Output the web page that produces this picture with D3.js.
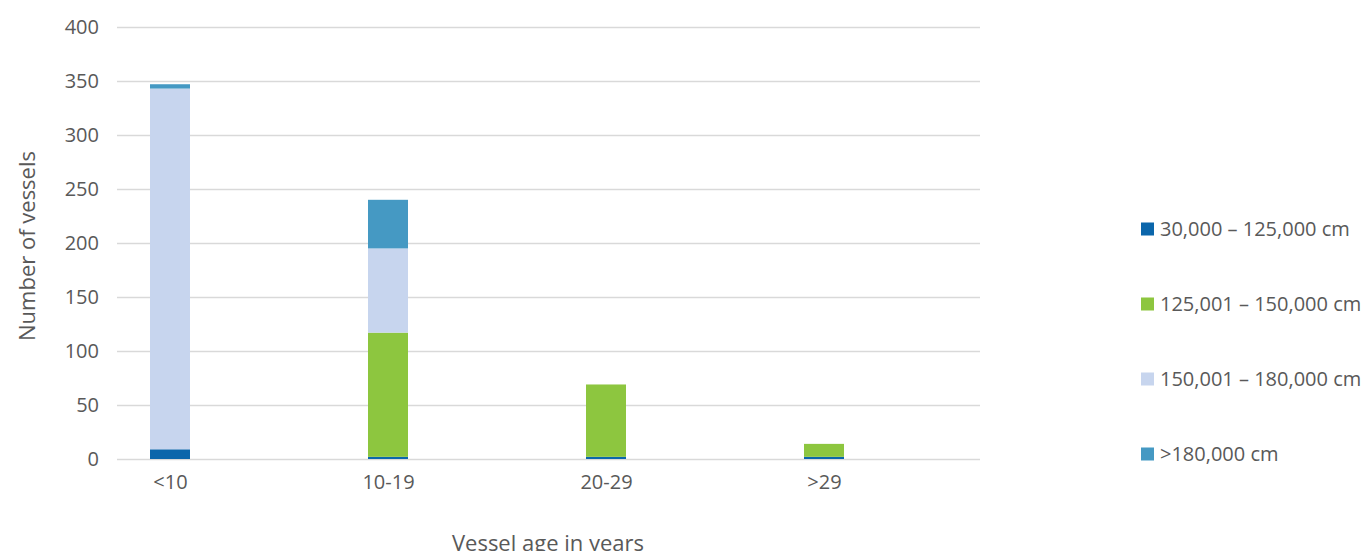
<!DOCTYPE html>
<html>
<head>
<meta charset="utf-8">
<script src="https://cdn.jsdelivr.net/npm/d3@7"></script>
<style>
  body { margin: 0; background: #fff; }
  #chart { width: 1361px; height: 551px; }
  text { font-family: "Open Sans", sans-serif; fill: #595959; }
</style>
</head>
<body>
<div id="chart"></div>
<script>
// Datos
const categorias = ['<10', '10-19', '20-29', '>29'];
const series = ['30,000 – 125,000 cm', '125,001 – 150,000 cm', '150,001 – 180,000 cm', '>180,000 cm'];
const serie1 = [9, 2, 2, 2];
const serie2 = [0, 115, 67, 12];
const serie3 = [334, 78, 0, 0];
const serie4 = [4, 45, 0, 0];
const yTicks = [0, 50, 100, 150, 200, 250, 300, 350, 400];

const COLORS = ['#0b66ab', '#8dc63f', '#c7d5ee', '#4599c3'];

let data = categorias.map(function(c, i) {
    return { cat: c, s0: serie1[i], s1: serie2[i], s2: serie3[i], s3: serie4[i] };
});
let keys = ['s0', 's1', 's2', 's3'];

let svg = d3.select('#chart')
    .append('svg')
    .attr('width', 1361)
    .attr('height', 551);

let plot = { left: 117, right: 980, top: 27, bottom: 459 };

let y = d3.scaleLinear()
    .domain([0, 400])
    .range([plot.bottom, plot.top]);

let x = d3.scalePoint()
    .domain(categorias)
    .range([170, 824]);

let barWidth = 40;

// Y axis con líneas de rejilla
let yAxis = function(g) {
    g.call(d3.axisLeft(y).tickValues(yTicks).tickSize(0).tickPadding(18));
    g.select('.domain').remove();
    g.selectAll('.tick text').style('font-size', '20px').style('font-family', '"Open Sans", sans-serif').attr('fill', '#595959');
    g.selectAll('.tick line')
        .attr('x1', 0)
        .attr('x2', plot.right - plot.left)
        .attr('stroke', '#d9d9d9')
        .attr('stroke-width', 1.5);
};

svg.append('g')
    .attr('transform', 'translate(' + plot.left + ',0)')
    .call(yAxis);

// X axis
let xAxis = function(g) {
    g.call(d3.axisBottom(x).tickSize(0).tickPadding(16));
    g.select('.domain').remove();
    g.selectAll('.tick text').style('font-size', '20px').style('font-family', '"Open Sans", sans-serif').attr('fill', '#595959');
};

svg.append('g')
    .attr('transform', 'translate(0,' + plot.bottom + ')')
    .call(xAxis);

// Barras apiladas
let stacked = d3.stack().keys(keys)(data);

svg.append('g')
    .selectAll('g')
    .data(stacked)
    .enter()
    .append('g')
    .attr('fill', function(d, i) { return COLORS[i]; })
    .selectAll('rect')
    .data(function(d) { return d; })
    .enter()
    .append('rect')
    .attr('x', function(d) { return x(d.data.cat) - barWidth / 2; })
    .attr('width', barWidth)
    .attr('y', function(d) { return y(d[1]); })
    .attr('height', function(d) { return y(d[0]) - y(d[1]); });

// Títulos de ejes
svg.append('text')
    .attr('transform', 'translate(35,246) rotate(-90)')
    .attr('text-anchor', 'middle')
    .style('font-size', '22px')
    .text('Number of vessels');

svg.append('text')
    .attr('x', 548)
    .attr('y', 551)
    .attr('text-anchor', 'middle')
    .style('font-size', '22px')
    .text('Vessel age in years');

// Leyenda
let legend = svg.append('g')
    .selectAll('g')
    .data(series)
    .enter()
    .append('g')
    .attr('transform', function(d, i) { return 'translate(1141,' + (229 + i * 75) + ')'; });

legend.append('rect')
    .attr('x', 0)
    .attr('y', -6.5)
    .attr('width', 13)
    .attr('height', 13)
    .attr('fill', function(d, i) { return COLORS[i]; });

legend.append('text')
    .attr('x', 19)
    .attr('y', 0)
    .attr('dy', '0.35em')
    .style('font-size', '20px')
    .text(function(d) { return d; });
</script>
</body>
</html>
